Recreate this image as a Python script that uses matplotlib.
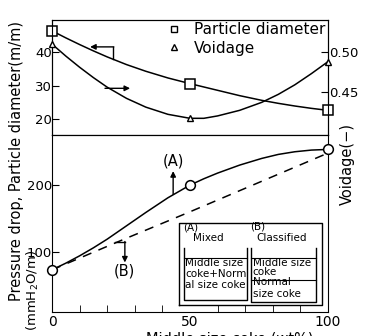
import matplotlib
matplotlib.use("Agg")
import matplotlib.pyplot as plt
from matplotlib.lines import Line2D

# Data
coke = [0, 5, 10, 15, 20, 27, 34, 42, 50, 55, 60, 68, 76, 82, 88, 94, 100]
diameter = [46.4, 44.3, 42.3, 40.4, 38.6, 36.3, 34.3, 32.3, 30.6, 29.6, 28.6,
            27.0, 25.6, 24.7, 23.9, 23.2, 22.6]
voidage = [0.510, 0.495, 0.481, 0.468, 0.456, 0.442, 0.431, 0.422, 0.417, 0.417,
           0.420, 0.427, 0.437, 0.447, 0.459, 0.473, 0.488]
drop_mixed = [73, 83, 94, 106, 119, 139, 159, 181, 200, 209.5, 218, 230, 240, 246,
              250, 252.5, 253.5]
marked = [0, 8, 16]  # measured points (0, 50, 100 wt%)
coke_classified = [0, 25, 50, 75, 100]
drop_classified = [73, 117, 160, 204, 248]

FS = 10.5
TFS = 9.5

fig = plt.figure(figsize=(3.65, 3.36), dpi=100)
ax_top = fig.add_axes([0.1425, 0.598, 0.756, 0.342])
ax_bot = fig.add_axes([0.1425, 0.071, 0.756, 0.527])
ax_void = ax_top.twinx()

# Top panel: particle diameter and voidage
ax_top.plot(coke, diameter, color='black', lw=1.1, marker='s', markevery=marked,
            ms=7, mfc='white', mec='black', mew=1.1, clip_on=False, zorder=3)
ax_void.plot(coke, voidage, color='black', lw=1.1, marker='^', markevery=marked,
             ms=5, mfc='white', mec='black', mew=1.0, clip_on=False, zorder=3)
ax_top.set_xlim(0, 100)
ax_top.set_ylim(15.2, 49.6)
ax_void.set_ylim(0.396, 0.54)
ax_top.set_xticks([])
ax_top.set_yticks([20, 30, 40])
ax_void.set_yticks([0.45, 0.50])
ax_void.set_yticklabels(['0.45', '0.50'])
ax_top.tick_params(axis='y', direction='in', length=5, pad=0, labelsize=TFS)
ax_void.tick_params(axis='y', direction='in', length=5, pad=1, labelsize=TFS)

# direction arrows for the top curves
ax_top.plot([22.2, 22.2], [37.9, 41.6], color='black', lw=1.0)
ax_top.annotate('', xy=(13.8, 41.6), xytext=(22.4, 41.6),
                arrowprops=dict(arrowstyle='-|>', color='black', lw=1.0, mutation_scale=8,
                                shrinkA=0, shrinkB=0))
ax_void.annotate('', xy=(28.3, 0.4546), xytext=(19.2, 0.4546),
                 arrowprops=dict(arrowstyle='-|>', color='black', lw=1.0, mutation_scale=8,
                                 shrinkA=0, shrinkB=0))

handles = [Line2D([], [], ls='none', marker='s', ms=5, mfc='white', mec='black', mew=1.0),
           Line2D([], [], ls='none', marker='^', ms=4, mfc='white', mec='black', mew=1.0)]
ax_top.legend(handles, ['Particle diameter', 'Voidage'], loc='upper right', frameon=False,
              fontsize=11, handlelength=1.0, handletextpad=0.8, labelspacing=0.2,
              borderaxespad=0.05, borderpad=0.1)

# Bottom panel: pressure drop
ax_bot.plot(coke, drop_mixed, color='black', lw=1.1, marker='o', markevery=marked,
            ms=7, mfc='white', mec='black', mew=1.1, clip_on=False, zorder=3)
ax_bot.plot(coke_classified, drop_classified, color='black', lw=1.1, dashes=(6, 5), zorder=2)
ax_bot.set_xlim(0, 100)
ax_bot.set_ylim(9.6, 275)
ax_bot.set_xticks([0, 50, 100])
ax_bot.set_xticks(range(10, 100, 10), minor=True)
ax_bot.set_yticks([100, 200])
ax_bot.tick_params(axis='both', which='both', direction='in', length=5, pad=0, labelsize=TFS)
ax_bot.tick_params(axis='x', which='major', length=0, pad=2, labelsize=10)
ax_bot.tick_params(axis='x', which='minor', length=5)

ax_bot.annotate('', xy=(43.9, 221), xytext=(43.9, 186),
                arrowprops=dict(arrowstyle='-|>', color='black', lw=1.0, mutation_scale=8,
                                shrinkA=0, shrinkB=0))
ax_bot.text(44, 236, '(A)', ha='center', va='center', fontsize=FS)
ax_bot.plot([22.8, 26.4], [115, 115], color='black', lw=1.0)
ax_bot.annotate('', xy=(26.4, 84), xytext=(26.4, 115.5),
                arrowprops=dict(arrowstyle='-|>', color='black', lw=1.0, mutation_scale=8,
                                shrinkA=0, shrinkB=0))
ax_bot.text(26.4, 71, '(B)', ha='center', va='center', fontsize=FS)

# inset sketch of the packing modes
ins = fig.add_axes([0.490, 0.092, 0.392, 0.244])
ins.set_xlim(0, 1)
ins.set_ylim(0, 1)
ins.axis('off')
ins.plot([0, 1, 1, 0, 0], [0, 0, 1, 1, 0], color='black', lw=1.0, clip_on=False)
ins.plot([0.035, 0.035, 0.476, 0.476], [0.695, 0.061, 0.061, 0.695], color='black', lw=1.0)
ins.plot([0.035, 0.476], [0.573, 0.573], color='black', lw=0.8)
ins.plot([0.503, 0.503, 0.958, 0.958], [0.695, 0.037, 0.037, 0.695], color='black', lw=1.0)
ins.plot([0.503, 0.958], [0.573, 0.573], color='black', lw=0.8)
ins.plot([0.503, 0.958], [0.305, 0.305], color='black', lw=0.8)
IFS = 7.5
ins.text(0.03, 0.95, '(A)', fontsize=IFS, va='center')
ins.text(0.10, 0.82, 'Mixed', fontsize=IFS, va='center')
ins.text(0.50, 0.96, '(B)', fontsize=IFS, va='center')
ins.text(0.545, 0.82, 'Classified', fontsize=IFS, va='center')
ins.text(0.045, 0.51, 'Middle size', fontsize=IFS, va='center')
ins.text(0.045, 0.38, 'coke+Norm', fontsize=IFS, va='center')
ins.text(0.045, 0.24, 'al size coke', fontsize=IFS, va='center')
ins.text(0.515, 0.51, 'Middle size', fontsize=IFS, va='center')
ins.text(0.515, 0.40, 'coke', fontsize=IFS, va='center')
ins.text(0.515, 0.28, 'Normal', fontsize=IFS, va='center')
ins.text(0.515, 0.14, 'size coke', fontsize=IFS, va='center')

# axis titles
fig.text(0.046, 0.52, 'Pressure drop, Particle diameter(m/m)', rotation=90,
         ha='center', va='center', fontsize=FS)
fig.text(0.09, 0.135, '(mmH$_2$O/m)', rotation=90, ha='center', va='center', fontsize=9.5)
fig.text(0.953, 0.512, 'Voidage(\u2212)', rotation=90, ha='center', va='center', fontsize=FS)
fig.text(0.63, 0.012, 'Middle size coke (wt%)', ha='center', va='top', fontsize=FS)

fig.savefig('out.png', dpi=100)
